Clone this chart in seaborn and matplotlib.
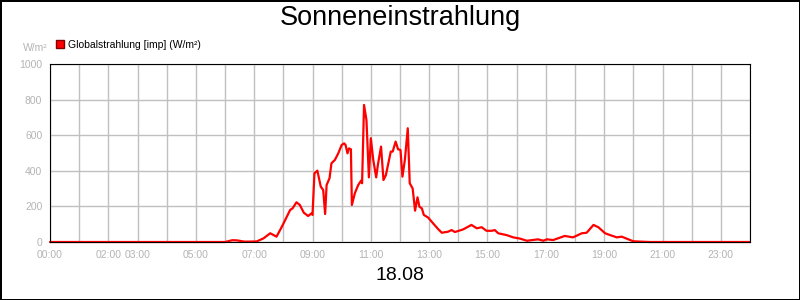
import numpy as np, pandas as pd
import matplotlib; matplotlib.use("Agg")
import matplotlib.pyplot as plt
from matplotlib.patches import Patch
import seaborn as sns

# readings of the day (HH:MM, W/m²)
TIMES = ["00:00", "03:00", "06:00", "06:15", "06:25", "06:40", "07:05", "07:19", "07:33", "07:46",
         "07:57", "08:14", "08:19", "08:27", "08:34", "08:42", "08:51", "08:58", "09:00", "09:04",
         "09:10", "09:17", "09:22", "09:26", "09:29", "09:35", "09:39", "09:46", "09:53", "10:00",
         "10:05", "10:08", "10:12", "10:15", "10:19", "10:21", "10:27", "10:34", "10:40", "10:42",
         "10:46", "10:51", "10:56", "11:00", "11:05", "11:11", "11:15", "11:21", "11:26", "11:31",
         "11:36", "11:41", "11:45", "11:51", "11:56", "12:01", "12:05", "12:10", "12:16", "12:20",
         "12:26", "12:31", "12:36", "12:40", "12:45", "12:49", "12:58", "13:08", "13:19", "13:26",
         "13:39", "13:46", "13:53", "14:10", "14:27", "14:38", "14:48", "14:58", "15:09", "15:15",
         "15:22", "15:39", "15:53", "16:07", "16:21", "16:44", "16:55", "17:02", "17:15", "17:39",
         "17:56", "18:14", "18:24", "18:38", "18:48", "19:02", "19:12", "19:26", "19:36", "19:46",
         "20:00", "20:34", "22:00", "24:00"]
VALUES = [0, 0, 0, 10, 9, 2, 3, 20, 49, 30,
          86, 180, 189, 223, 208, 165, 146, 161, 152, 386,
          401, 311, 292, 157, 320, 358, 442, 461, 498, 545,
          554, 545, 498, 526, 521, 208, 273, 320, 345, 330,
          770, 685, 363, 583, 461, 363, 442, 536, 348, 376,
          442, 508, 508, 564, 521, 517, 367, 461, 639, 330,
          301, 176, 251, 198, 189, 152, 137, 105, 71, 52,
          58, 67, 56, 71, 96, 77, 83, 63, 63, 67,
          49, 39, 26, 19, 7, 15, 7, 15, 11, 34,
          26, 49, 52, 96, 83, 49, 39, 26, 30, 19,
          4, 0, 0, 0]

TICK_HOURS = list(range(25))
LABEL_HOURS = [0, 2, 3, 5, 7, 9, 11, 13, 15, 17, 19, 21, 23]
Y_TICKS = [0, 200, 400, 600, 800, 1000]
SERIES = "Globalstrahlung [imp] (W/m²)"

sns.set_theme(style="whitegrid", rc={"grid.color": "#c0c0c0", "grid.linewidth": 1.0,
                                     "axes.edgecolor": "black", "axes.linewidth": 0.8,
                                     "text.color": "black"})
plt.rcParams["font.family"] = ["Liberation Sans", "DejaVu Sans"]

df = pd.DataFrame({"time": TIMES, "value": VALUES})
df["hour"] = pd.to_timedelta(df.time + ":00").dt.total_seconds() / 3600

fig = plt.figure(figsize=(8, 3), dpi=100, edgecolor="black", linewidth=2)
ax = fig.add_axes([50/800, 1-242/300, 700/800, 178/300])
sns.lineplot(data=df, x="hour", y="value", ax=ax, color="red", lw=1.6, legend=False, clip_on=False)

ax.set_xlim(0, 24); ax.set_ylim(0, 1000)
ax.set_xticks(TICK_HOURS)
ax.set_xticklabels([f"{h:02d}:00" if h in LABEL_HOURS else "" for h in TICK_HOURS])
ax.set_yticks(Y_TICKS)
ax.tick_params(axis="both", which="major", direction="out", length=4, width=0.8,
               color="#b4b4b4", labelcolor="#b4b4b4", labelsize=7.5, pad=1.5)
ax.set_xlabel(""); ax.set_ylabel("")
for s in ax.spines.values():
    s.set_visible(True); s.set_color("black")

fig.text(0.5, 1-18/300, "Sonneneinstrahlung", ha="center", va="center", fontsize=19.5, color="black")
fig.text(0.5, 1-275/300, "18.08", ha="center", va="center", fontsize=14, color="black")
fig.text(48/800, 1-48/300, "W/m²", ha="right", va="center", fontsize=7.5, color="#b4b4b4")
fig.legend(handles=[Patch(facecolor="red", edgecolor="#800000", label=SERIES)],
           loc="center left", bbox_to_anchor=(56/800, 1-44.5/300), frameon=False,
           handlelength=0.8, handleheight=0.8, handletextpad=0.4, borderpad=0,
           borderaxespad=0, fontsize=7.5, labelcolor="black")

fig.savefig("out.png", dpi=100)
